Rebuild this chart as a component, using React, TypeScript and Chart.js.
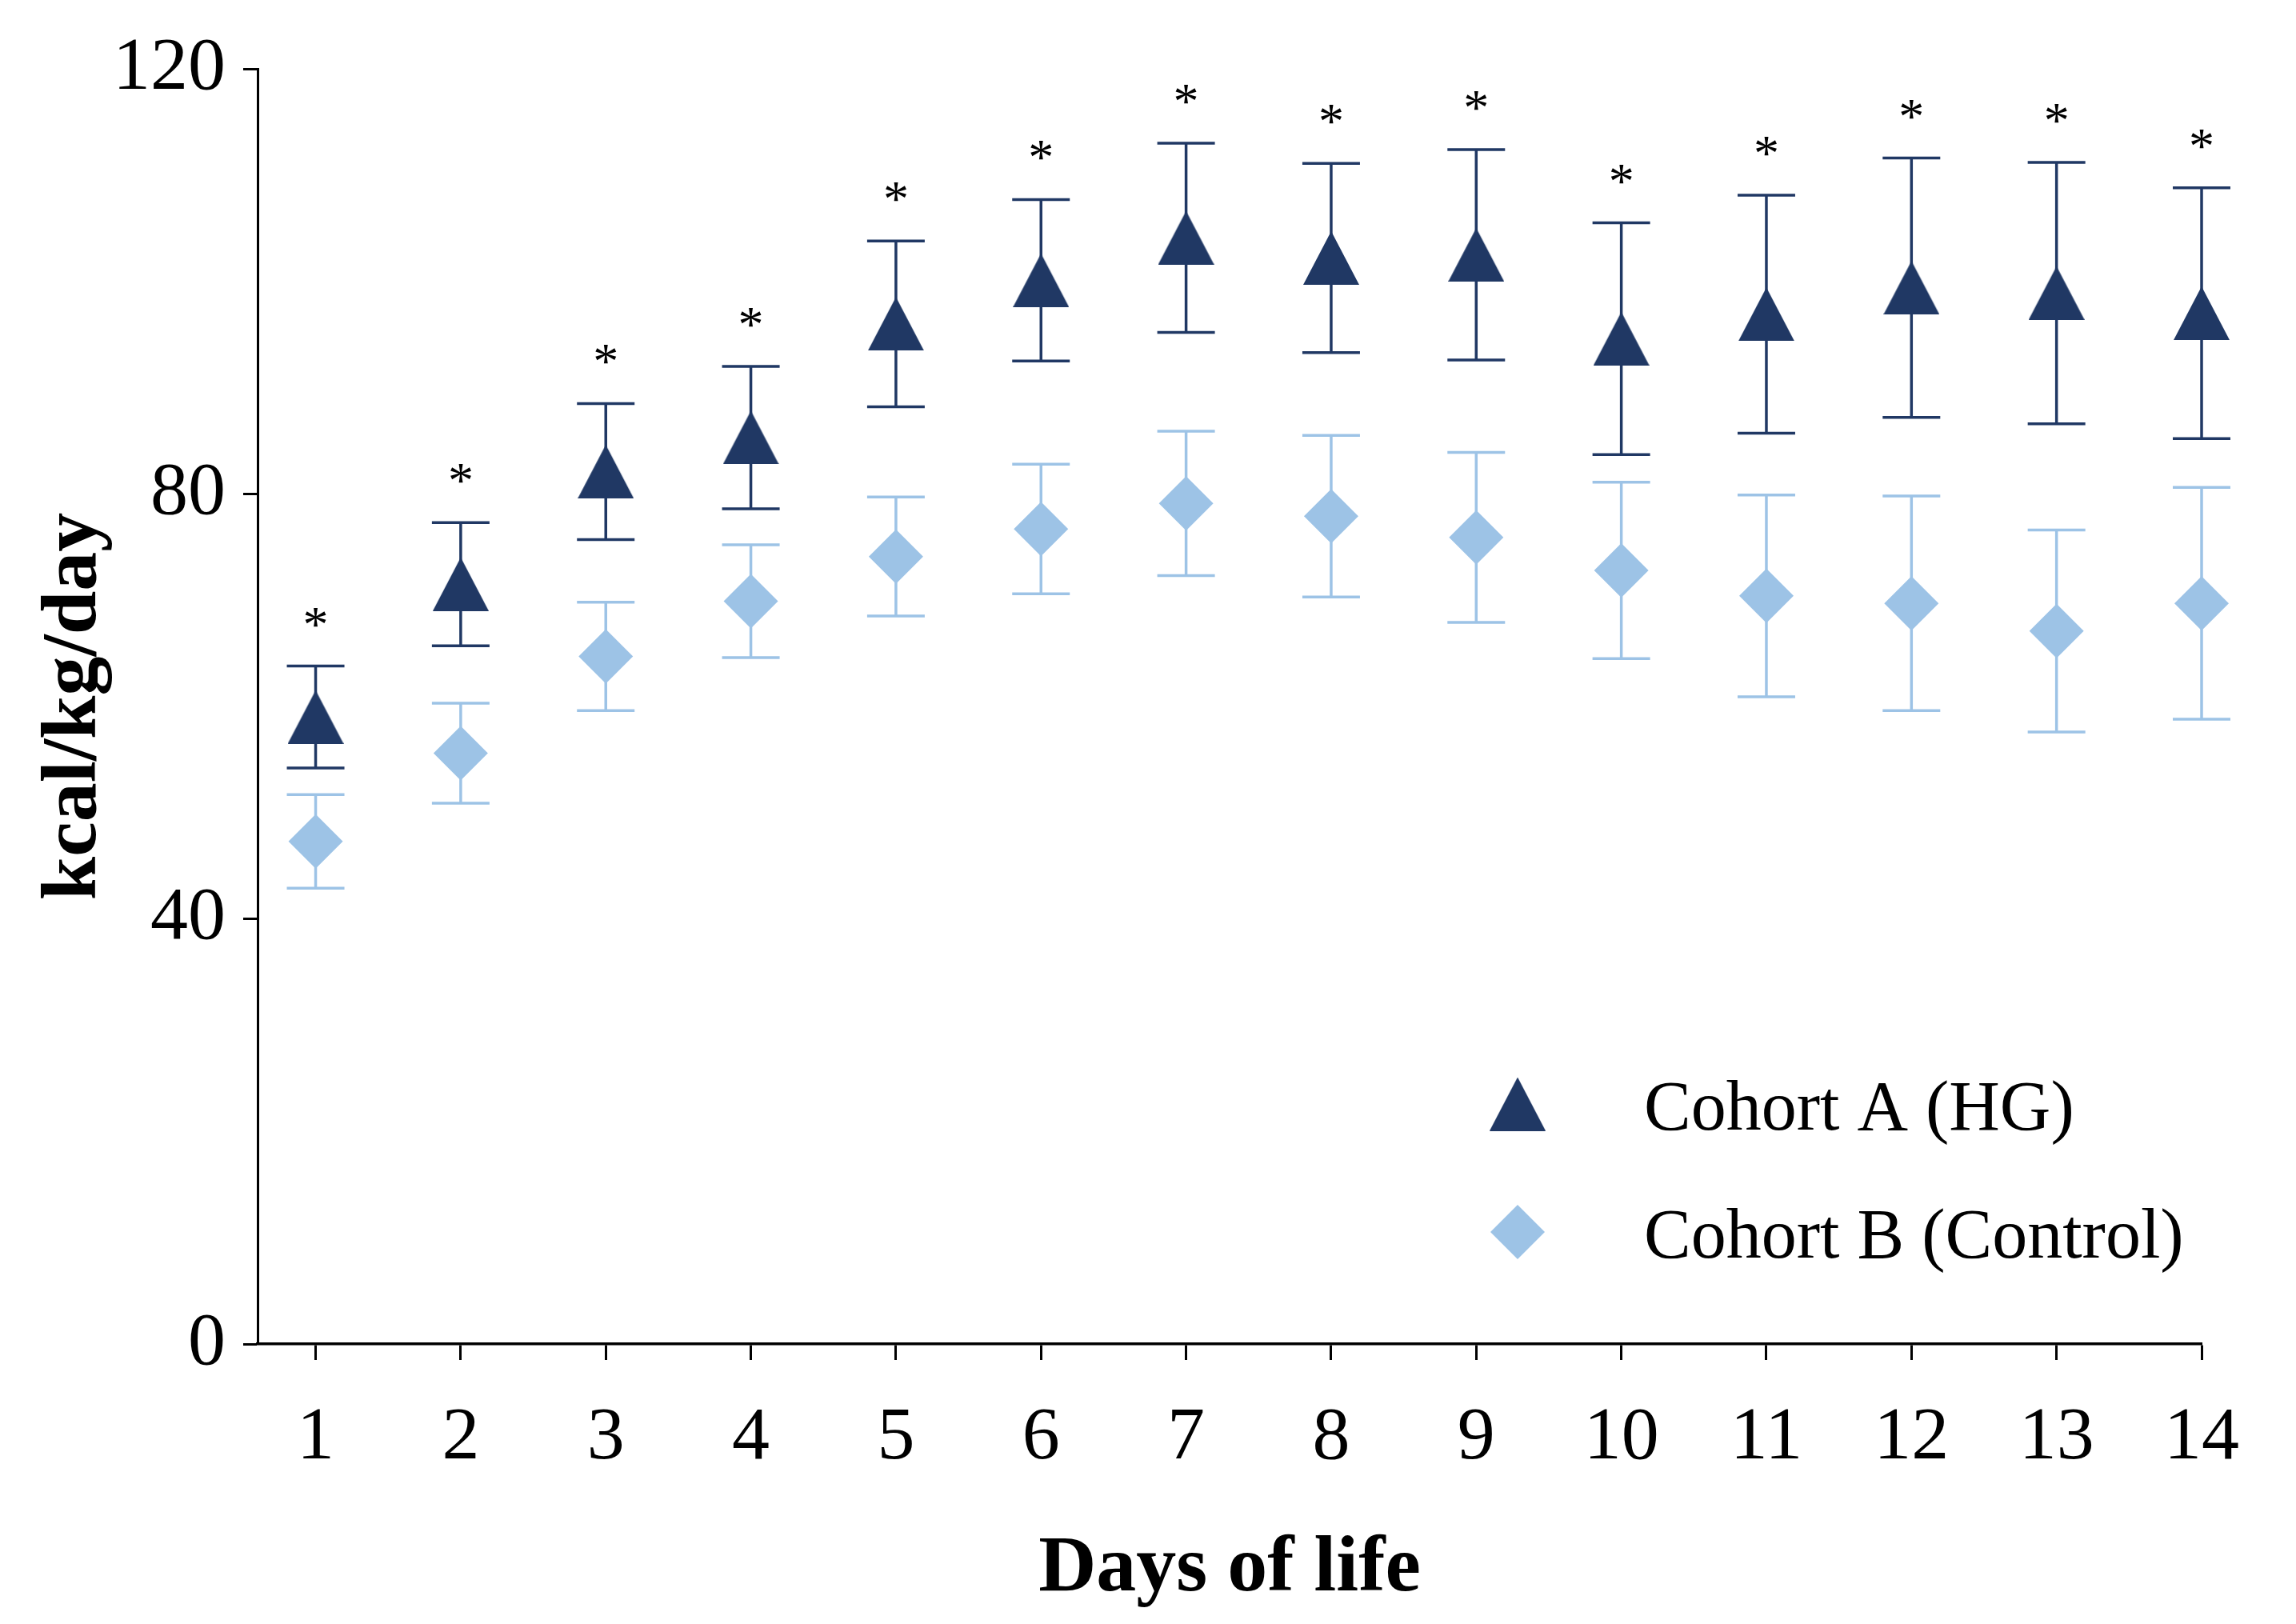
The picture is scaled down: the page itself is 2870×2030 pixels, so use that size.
import React, { useEffect, useRef } from 'react';
import { Chart, registerables } from 'chart.js';
import { drawPoint } from 'chart.js/helpers';

Chart.register(...registerables);

// ---- data ----
const days = [1, 2, 3, 4, 5, 6, 7, 8, 9, 10, 11, 12, 13, 14];
const cohortAMean = [59.0, 71.5, 82.1, 85.3, 96.0, 100.1, 104.1, 102.2, 102.5, 94.6, 96.9, 99.4, 98.9, 97.0];
const cohortAErr = [4.8, 5.8, 6.4, 6.7, 7.8, 7.6, 8.9, 8.9, 9.9, 10.9, 11.2, 12.2, 12.3, 11.8];
const cohortBMean = [47.3, 55.6, 64.7, 69.9, 74.1, 76.7, 79.1, 77.9, 75.9, 72.8, 70.4, 69.7, 67.1, 69.7];
const cohortBErr = [4.4, 4.7, 5.1, 5.3, 5.6, 6.1, 6.8, 7.6, 8.0, 8.3, 9.5, 10.1, 9.5, 10.9];
const significant = [true, true, true, true, true, true, true, true, true, true, true, true, true, true];
const yTicks = [0, 40, 80, 120];
const seriesLabels = ['Cohort A (HG)', 'Cohort B (Control)'];
const xTitle = 'Days of life';
const yTitle = 'kcal/kg/day';

// ---- styles ----
const NAVY = '#203864';
const LIGHT = '#9DC3E6';
const FONT = "'Liberation Serif', 'Times New Roman', serif";

function makeTriangle(w: number, h: number, color: string) {
  const c = document.createElement('canvas');
  c.width = w;
  c.height = h;
  const g = c.getContext('2d')!;
  g.fillStyle = color;
  g.beginPath();
  g.moveTo(w / 2, 0);
  g.lineTo(w, h);
  g.lineTo(0, h);
  g.closePath();
  g.fill();
  return c;
}

const errorsByDataset = [cohortAErr, cohortBErr];

const errorBarPlugin = {
  id: 'errorBars',
  beforeDatasetsDraw(chart: any) {
    const { ctx } = chart;
    const xs = chart.scales.x;
    const ys = chart.scales.y;
    chart.data.datasets.forEach((ds: any, i: number) => {
      const errs = errorsByDataset[i];
      ctx.save();
      ctx.strokeStyle = ds.backgroundColor;
      ds.data.forEach((pt: any, j: number) => {
        const px = xs.getPixelForValue(pt.x);
        const top = ys.getPixelForValue(pt.y + errs[j]);
        const bot = ys.getPixelForValue(pt.y - errs[j]);
        ctx.lineWidth = 3.5;
        ctx.beginPath();
        ctx.moveTo(px, top);
        ctx.lineTo(px, bot);
        ctx.stroke();
        ctx.lineWidth = 3.5;
        ctx.beginPath();
        ctx.moveTo(px - 36, top);
        ctx.lineTo(px + 36, top);
        ctx.moveTo(px - 36, bot);
        ctx.lineTo(px + 36, bot);
        ctx.stroke();
      });
      ctx.restore();
    });
  },
};

const asteriskPlugin = {
  id: 'asterisks',
  afterDatasetsDraw(chart: any) {
    const { ctx } = chart;
    const xs = chart.scales.x;
    const ys = chart.scales.y;
    ctx.save();
    ctx.fillStyle = '#000';
    ctx.font = `64px ${FONT}`;
    ctx.textAlign = 'center';
    ctx.textBaseline = 'alphabetic';
    days.forEach((d, j) => {
      if (!significant[j]) return;
      const px = xs.getPixelForValue(d);
      const top = ys.getPixelForValue(cohortAMean[j] + cohortAErr[j]);
      ctx.fillText('*', px, top - 67 + 36);
    });
    ctx.restore();
  },
};

const legendPlugin = {
  id: 'customLegend',
  afterDraw(chart: any) {
    const { ctx, chartArea } = chart;
    const markerX = chartArea.left + 1575;
    const textX = chartArea.left + 1733;
    const rows = [chartArea.top + 1297, chartArea.top + 1457];
    ctx.save();
    chart.data.datasets.forEach((ds: any, i: number) => {
      const y = rows[i];
      ctx.fillStyle = ds.backgroundColor;
      ctx.strokeStyle = ds.backgroundColor;
      drawPoint(ctx, { pointStyle: ds.pointStyle, radius: ds.pointRadius, rotation: 0, borderWidth: 0 } as any, markerX, y - 3);
      ctx.fillStyle = '#000';
      ctx.font = `88px ${FONT}`;
      ctx.textAlign = 'left';
      ctx.textBaseline = 'middle';
      ctx.fillText(ds.label, textX, y + 6);
    });
    ctx.restore();
  },
};

export default function App() {
  const ref = useRef<HTMLCanvasElement | null>(null);

  useEffect(() => {
    if (!ref.current) return;
    const tri = makeTriangle(70, 67, NAVY);
    const chart = new Chart(ref.current, {
      type: 'scatter',
      data: {
        datasets: [
          {
            label: seriesLabels[0],
            data: days.map((d, i) => ({ x: d, y: cohortAMean[i] })),
            pointStyle: tri as any,
            pointRadius: 34,
            backgroundColor: NAVY,
            borderColor: NAVY,
            pointBorderWidth: 0,
            showLine: false,
            clip: false,
          },
          {
            label: seriesLabels[1],
            data: days.map((d, i) => ({ x: d, y: cohortBMean[i] })),
            pointStyle: 'rectRot',
            pointRadius: 34,
            backgroundColor: LIGHT,
            borderColor: LIGHT,
            pointBorderWidth: 0,
            showLine: false,
            clip: false,
          },
        ],
      },
      options: {
        animation: false,
        responsive: false,
        devicePixelRatio: 1,
        layout: { padding: { top: 86, right: 118, left: 0, bottom: 0 } },
        plugins: { legend: { display: false }, tooltip: { enabled: false } },
        scales: {
          x: {
            type: 'linear',
            min: 0.6,
            max: 14,
            afterBuildTicks: (s: any) => {
              s.ticks = days.map((v) => ({ value: v }));
            },
            afterFit: (s: any) => {
              s.height = 350;
            },
            grid: { display: true, drawOnChartArea: false, drawTicks: true, tickLength: 20, tickWidth: 3, tickColor: '#000' },
            border: { display: true, color: '#000', width: 3.5 },
            ticks: { font: { family: FONT, size: 94 }, color: '#000', padding: 42, maxRotation: 0, autoSkip: false },
            title: {
              display: true,
              text: xTitle,
              color: '#000',
              font: { family: FONT, size: 100, weight: 'bold' },
              padding: { top: 0, bottom: 8 },
            },
          },
          y: {
            type: 'linear',
            min: 0,
            max: 120,
            afterBuildTicks: (s: any) => {
              s.ticks = yTicks.map((v) => ({ value: v }));
            },
            afterFit: (s: any) => {
              s.width = 322;
            },
            grid: { display: true, drawOnChartArea: false, drawTicks: true, tickLength: 18, tickWidth: 3, tickColor: '#000' },
            border: { display: true, color: '#000', width: 3 },
            ticks: { font: { family: FONT, size: 94 }, color: '#000', padding: 22 },
            title: {
              display: true,
              text: yTitle,
              color: '#000',
              font: { family: FONT, size: 98, weight: 'bold' },
              padding: { top: 35, bottom: 0 },
            },
          },
        },
      },
      plugins: [errorBarPlugin, asteriskPlugin, legendPlugin],
    } as any);
    return () => chart.destroy();
  }, []);

  return (
    <div style={{ position: 'absolute', left: 0, top: 0, width: 2870, height: 2030, background: '#fff' }}>
      <canvas ref={ref} width={2870} height={2030} style={{ width: 2870, height: 2030 }} />
    </div>
  );
}
